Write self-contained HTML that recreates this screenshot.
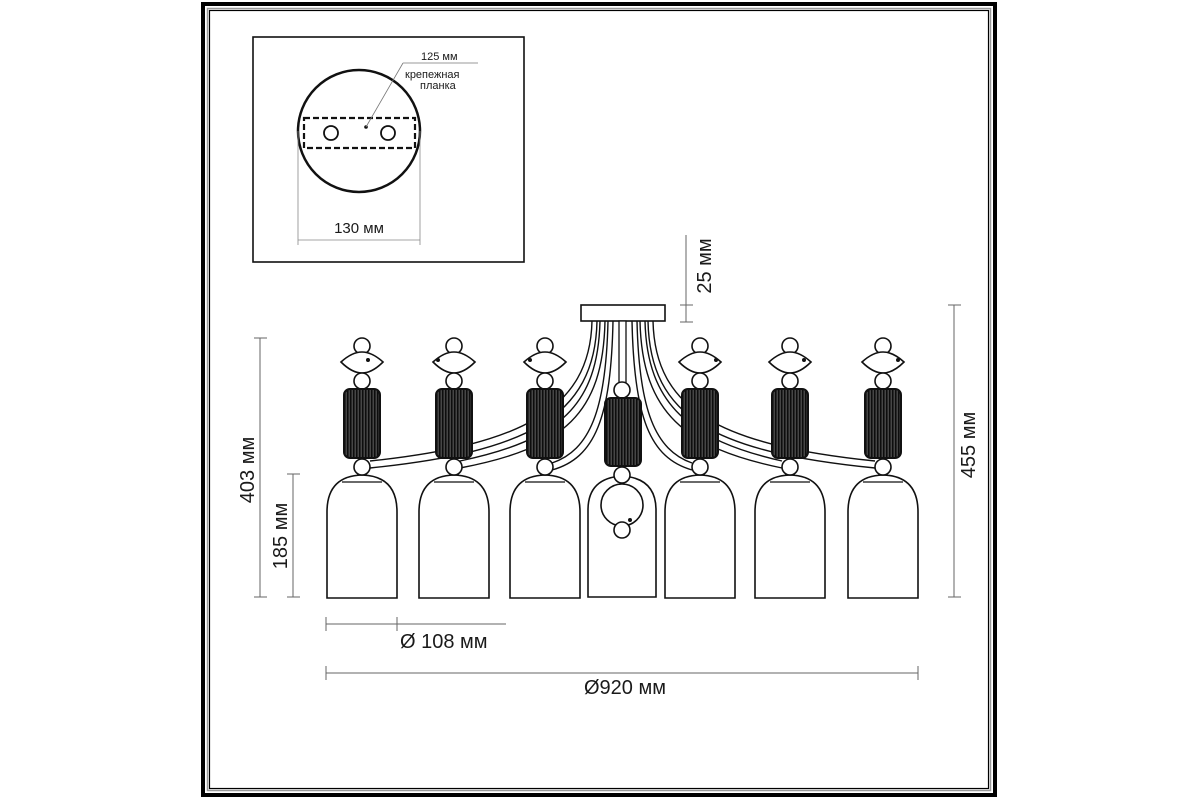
<!DOCTYPE html>
<html><head><meta charset="utf-8"><style>
html,body{margin:0;padding:0;background:#fff;}
svg{display:block;}
text{font-family:"Liberation Sans","DejaVu Sans",sans-serif;fill:#1a1a1a;}
</style></head><body>
<svg width="1200" height="800" viewBox="0 0 1200 800" xmlns="http://www.w3.org/2000/svg">
<defs>
<pattern id="str" width="3" height="10" patternUnits="userSpaceOnUse">
<rect width="3" height="10" fill="#0d0d0d"/><rect x="1.8" width="0.6" height="10" fill="#999"/>
</pattern>
<g id="lamp" fill="#fff" stroke="#111" stroke-width="1.6">
<circle cx="0" cy="346" r="8"/>
<path d="M-21,362 Q-10,352 0,352 Q10,352 21,362 Q10,373 0,373 Q-10,373 -21,362 Z"/>
<circle cx="0" cy="381" r="8"/>
<rect x="-18" y="389" width="36" height="69" rx="6" fill="url(#str)" stroke-width="2"/>
<path d="M-35,598 L-35,512 Q-35,476 0,475 Q35,476 35,512 L35,598 Z"/>
<path d="M-20,482 L20,482" stroke-width="1.2"/>
<circle cx="0" cy="467" r="8"/>
</g>
</defs>
<!-- frame -->
<rect x="203" y="4" width="792" height="791" fill="none" stroke="#000" stroke-width="4"/>
<rect x="207.5" y="8.5" width="783" height="782" fill="none" stroke="#999" stroke-width="1.5"/>
<rect x="209.5" y="10.5" width="779" height="778" fill="none" stroke="#000" stroke-width="1.2"/>

<!-- inset box -->
<rect x="253" y="37" width="271" height="225" fill="none" stroke="#111" stroke-width="1.6"/>
<circle cx="359" cy="131" r="61" fill="none" stroke="#111" stroke-width="2.5"/>
<rect x="304" y="118" width="111" height="30" fill="none" stroke="#111" stroke-width="2.2" stroke-dasharray="6,3"/>
<circle cx="331" cy="133" r="7" fill="none" stroke="#111" stroke-width="1.8"/>
<circle cx="388" cy="133" r="7" fill="none" stroke="#111" stroke-width="1.8"/>
<circle cx="366" cy="127" r="1.8" fill="#111"/>
<line x1="366" y1="127" x2="403" y2="63" stroke="#777" stroke-width="0.8"/>
<line x1="403" y1="63" x2="478" y2="63" stroke="#777" stroke-width="0.8"/>
<text x="421" y="60" font-size="11">125 мм</text>
<text x="405" y="78" font-size="11">крепежная</text>
<text x="420" y="89" font-size="11">планка</text>
<line x1="298" y1="131" x2="298" y2="245" stroke="#888" stroke-width="0.8"/>
<line x1="420" y1="131" x2="420" y2="245" stroke="#888" stroke-width="0.8"/>
<line x1="298" y1="240" x2="420" y2="240" stroke="#888" stroke-width="0.8"/>
<text x="359" y="233" font-size="15" text-anchor="middle">130 мм</text>

<!-- arms -->
<g fill="none" stroke="#111" stroke-width="1.4">
<path d="M592,321 C590,410 520,445 370,461"/>
<path d="M597,321 C595,418 525,452 370,468"/>
<path d="M600,321 C598,405 560,440 460,461"/>
<path d="M605,321 C603,413 565,448 460,468"/>
<path d="M608,321 C606,410 590,450 552,463"/>
<path d="M613,321 C611,418 595,458 552,470"/>
<path d="M653,321 C655,410 720,445 875,461"/>
<path d="M648,321 C650,418 715,452 875,468"/>
<path d="M645,321 C647,405 690,440 782,461"/>
<path d="M640,321 C642,413 685,448 782,468"/>
<path d="M637,321 C639,410 655,450 692,463"/>
<path d="M632,321 C634,418 650,458 692,470"/>
</g>
<rect x="581" y="305" width="84" height="16" fill="#fff" stroke="#111" stroke-width="1.6"/>
<rect x="619" y="321" width="7" height="64" fill="#fff" stroke="#111" stroke-width="1.3"/>

<!-- lamps -->
<use href="#lamp" x="362"/>
<use href="#lamp" x="454"/>
<use href="#lamp" x="545"/>
<use href="#lamp" x="700"/>
<use href="#lamp" x="790"/>
<use href="#lamp" x="883"/>
<circle cx="368" cy="360" r="2" fill="#111"/>
<circle cx="438" cy="360" r="2" fill="#111"/>
<circle cx="530" cy="360" r="2" fill="#111"/>
<circle cx="716" cy="360" r="2" fill="#111"/>
<circle cx="804" cy="360" r="2" fill="#111"/>
<circle cx="898" cy="360" r="2" fill="#111"/>

<!-- center lamp -->
<g fill="#fff" stroke="#111" stroke-width="1.6">
<path d="M588,597 L588,510 Q588,478 622,476 Q656,478 656,510 L656,597 Z"/>
<circle cx="622" cy="390" r="8"/>
<rect x="605" y="398" width="36" height="68" rx="6" fill="url(#str)" stroke-width="2"/>
<circle cx="622" cy="475" r="8"/>
<circle cx="622" cy="505" r="21" fill="none"/>
<circle cx="622" cy="530" r="8"/>
</g>
<circle cx="630" cy="520" r="2" fill="#111"/>

<!-- dimensions -->
<g stroke="#666" stroke-width="1" fill="none">
<line x1="260" y1="338" x2="260" y2="597"/><line x1="254" y1="338" x2="267" y2="338"/><line x1="254" y1="597" x2="267" y2="597"/>
<line x1="293" y1="474" x2="293" y2="597"/><line x1="287" y1="474" x2="300" y2="474"/><line x1="287" y1="597" x2="300" y2="597"/>
<line x1="954" y1="305" x2="954" y2="597"/><line x1="948" y1="305" x2="961" y2="305"/><line x1="948" y1="597" x2="961" y2="597"/>
<line x1="686" y1="235" x2="686" y2="322"/><line x1="680" y1="305" x2="693" y2="305"/><line x1="680" y1="322" x2="693" y2="322"/>
<line x1="326" y1="624" x2="506" y2="624"/><line x1="326" y1="617" x2="326" y2="631"/><line x1="397" y1="617" x2="397" y2="631"/>
<line x1="326" y1="673" x2="918" y2="673"/><line x1="326" y1="666" x2="326" y2="680"/><line x1="918" y1="666" x2="918" y2="680"/>
</g>
<text x="0" y="0" font-size="20" text-anchor="middle" transform="translate(254,470) rotate(-90)">403 мм</text>
<text x="0" y="0" font-size="20" text-anchor="middle" transform="translate(287,536) rotate(-90)">185 мм</text>
<text x="0" y="0" font-size="20" text-anchor="middle" transform="translate(975,445) rotate(-90)">455 мм</text>
<text x="0" y="0" font-size="20" text-anchor="middle" transform="translate(711,266) rotate(-90)">25 мм</text>
<text x="400" y="648" font-size="20">Ø 108 мм</text>
<text x="625" y="694" font-size="20" text-anchor="middle">Ø920 мм</text>
</svg>
</body></html>
